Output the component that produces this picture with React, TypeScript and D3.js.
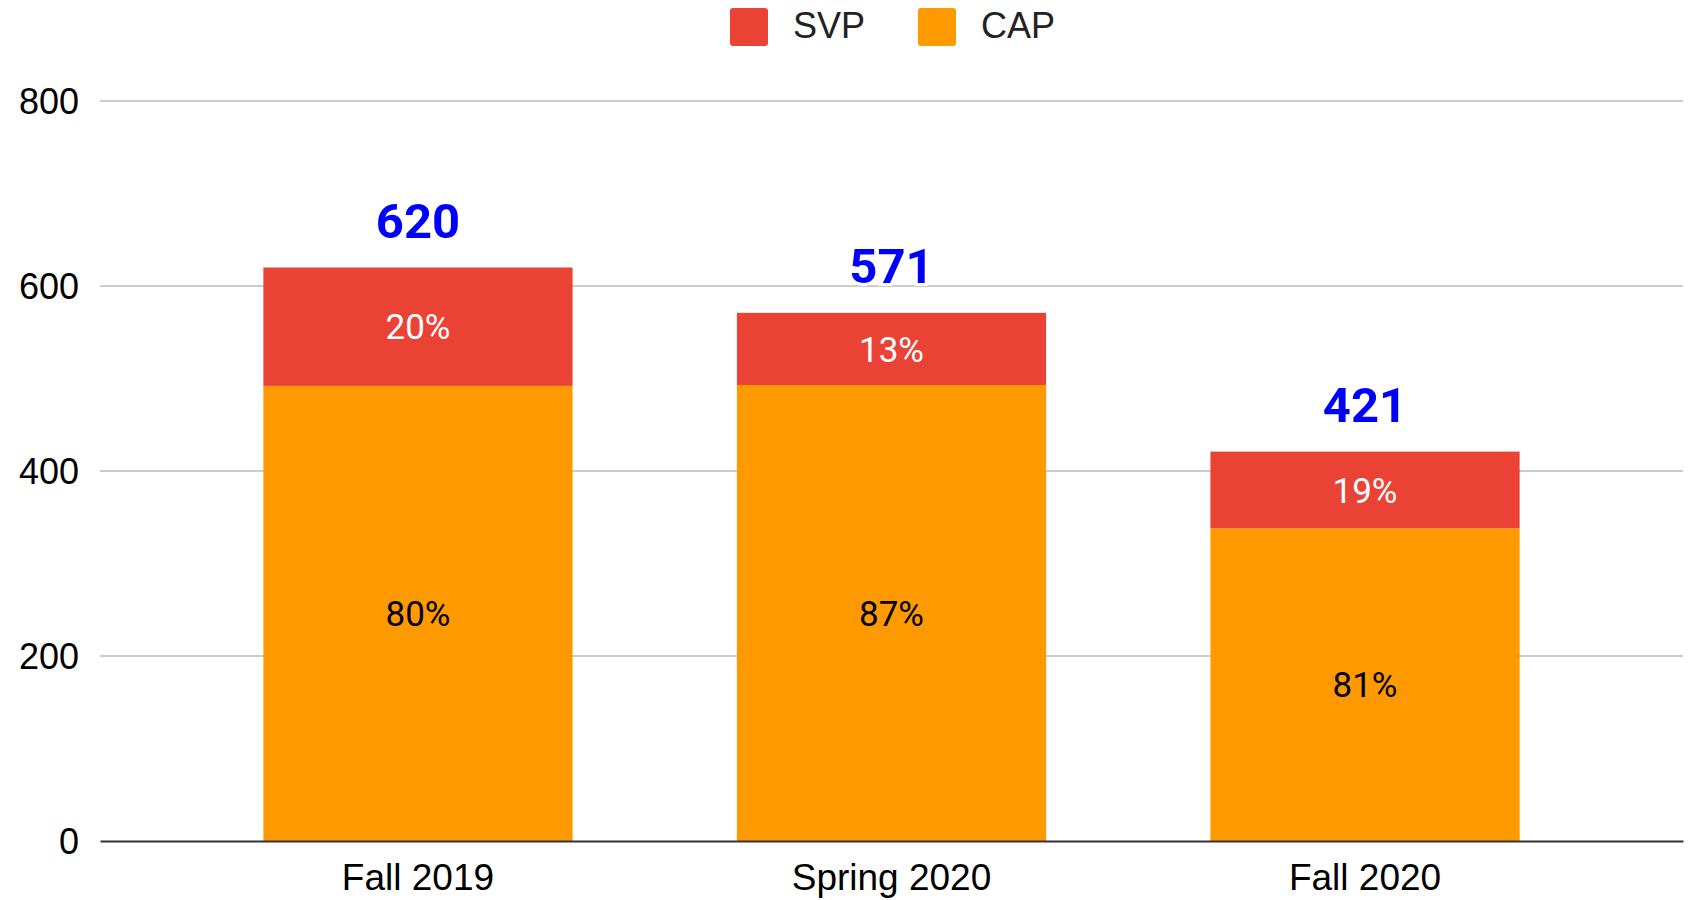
import React, { useRef, useEffect } from "react";
import * as d3 from "d3";

const terms = ["Fall 2019", "Spring 2020", "Fall 2020"];
const svpValues = [128, 78, 83];
const capValues = [492, 493, 338];
const totals = [620, 571, 421];
const svpPct = ["20%", "13%", "19%"];
const capPct = ["80%", "87%", "81%"];
const yTicks = [0, 200, 400, 600, 800];
const seriesNames = ["SVP", "CAP"];
const colors = ["#ea4335", "#ff9900"];

const App = () => {
    const svgRef = useRef<SVGSVGElement>(null);

    useEffect(() => {
        const width = 1690;
        const height = 900;
        const margin = { top: 101, right: 7, bottom: 59, left: 100 };

        const svg = d3.select(svgRef.current);
        svg.selectAll("*").remove();
        svg.attr("width", width).attr("height", height);

        const data = terms.map((t, i) => ({ term: t, CAP: capValues[i], SVP: svpValues[i] }));

        const xScale = d3
            .scaleBand()
            .domain(terms)
            .range([margin.left, width - margin.right])
            .paddingInner(0.347)
            .paddingOuter(0.345);

        const yScale = d3
            .scaleLinear()
            .domain([0, 800])
            .range([height - margin.bottom, margin.top]);

        // gridlines
        svg
            .append("g")
            .selectAll("line")
            .data(yTicks.filter((d) => d > 0))
            .enter()
            .append("line")
            .attr("x1", margin.left)
            .attr("x2", width - margin.right)
            .attr("y1", (d) => yScale(d))
            .attr("y2", (d) => yScale(d))
            .attr("stroke", "#cccccc")
            .attr("stroke-width", 2);

        // y labels
        svg
            .append("g")
            .selectAll("text")
            .data(yTicks)
            .enter()
            .append("text")
            .attr("x", 79)
            .attr("y", (d) => yScale(d))
            .attr("dy", "0.36em")
            .attr("text-anchor", "end")
            .attr("font-family", "'Liberation Sans', Arial, sans-serif")
            .attr("font-size", 36)
            .attr("fill", "#000")
            .text((d) => d);

        // stacked bars
        const dataset = d3.stack<any>().keys(["CAP", "SVP"])(data);
        const groups = svg
            .selectAll(".bars")
            .data(dataset)
            .enter()
            .append("g")
            .attr("class", "bars")
            .style("fill", (d, i) => colors[1 - i]);

        groups
            .selectAll("rect")
            .data((d) => d)
            .enter()
            .append("rect")
            .attr("x", (d: any) => xScale(d.data.term)!)
            .attr("y", (d) => yScale(d[1]))
            .attr("height", (d) => yScale(d[0]) - yScale(d[1]))
            .attr("width", xScale.bandwidth());

        // segment labels
        const capSeg = dataset[0];
        const svpSeg = dataset[1];
        const segLabel = (seg: any, labels: string[], fill: string) =>
            svg
                .append("g")
                .selectAll("text")
                .data(seg)
                .enter()
                .append("text")
                .attr("x", (d: any) => xScale(d.data.term)! + xScale.bandwidth() / 2)
                .attr("y", (d: any) => (yScale(d[0]) + yScale(d[1])) / 2)
                .attr("dy", "0.36em")
                .attr("text-anchor", "middle")
                .attr("font-family", "Roboto, sans-serif")
                .attr("font-size", 35)
                .attr("fill", fill)
                .text((d: any, i: number) => labels[i]);
        segLabel(capSeg, capPct, "#000");
        segLabel(svpSeg, svpPct, "#fff");

        // totals
        svg
            .append("g")
            .selectAll("text")
            .data(totals)
            .enter()
            .append("text")
            .attr("x", (d, i) => xScale(terms[i])! + xScale.bandwidth() / 2)
            .attr("y", (d) => yScale(d) - 30)
            .attr("text-anchor", "middle")
            .attr("font-family", "Roboto, sans-serif")
            .attr("font-weight", "bold")
            .attr("font-size", 49)
            .attr("fill", "#0000ff")
            .attr("stroke", "#fff")
            .attr("stroke-width", 6)
            .attr("paint-order", "stroke")
            .text((d) => d);

        // baseline axis
        const xAxis = d3.axisBottom(xScale).tickSize(0);
        const axisG = svg
            .append("g")
            .attr("transform", `translate(0, ${yScale(0)})`)
            .call(xAxis);
        axisG.select(".domain").attr("stroke", "#333").attr("stroke-width", 2);
        axisG
            .selectAll("text")
            .attr("fill", "#000")
            .attr("font-family", "'Liberation Sans', Arial, sans-serif")
            .style("font-size", "37px")
            .attr("y", 0)
            .attr("dy", "1.32em");

        // legend
        const legendX = [730, 918];
        const legend = svg
            .append("g")
            .selectAll("g")
            .data(seriesNames)
            .enter()
            .append("g")
            .attr("transform", (d, i) => `translate(${legendX[i]}, 8)`);
        legend
            .append("rect")
            .attr("width", 38)
            .attr("height", 38)
            .attr("rx", 3)
            .attr("fill", (d, i) => colors[i]);
        legend
            .append("text")
            .attr("x", 63)
            .attr("y", 17)
            .attr("dy", "0.36em")
            .attr("font-family", "'Liberation Sans', Arial, sans-serif")
            .attr("font-size", 36)
            .attr("fill", "#222")
            .text((d) => d);
    }, []);

    return (
        <div>
            <svg ref={svgRef} style={{ position: "absolute", left: 0, top: 0, display: "block" }}></svg>
        </div>
    );
};

export default App;
